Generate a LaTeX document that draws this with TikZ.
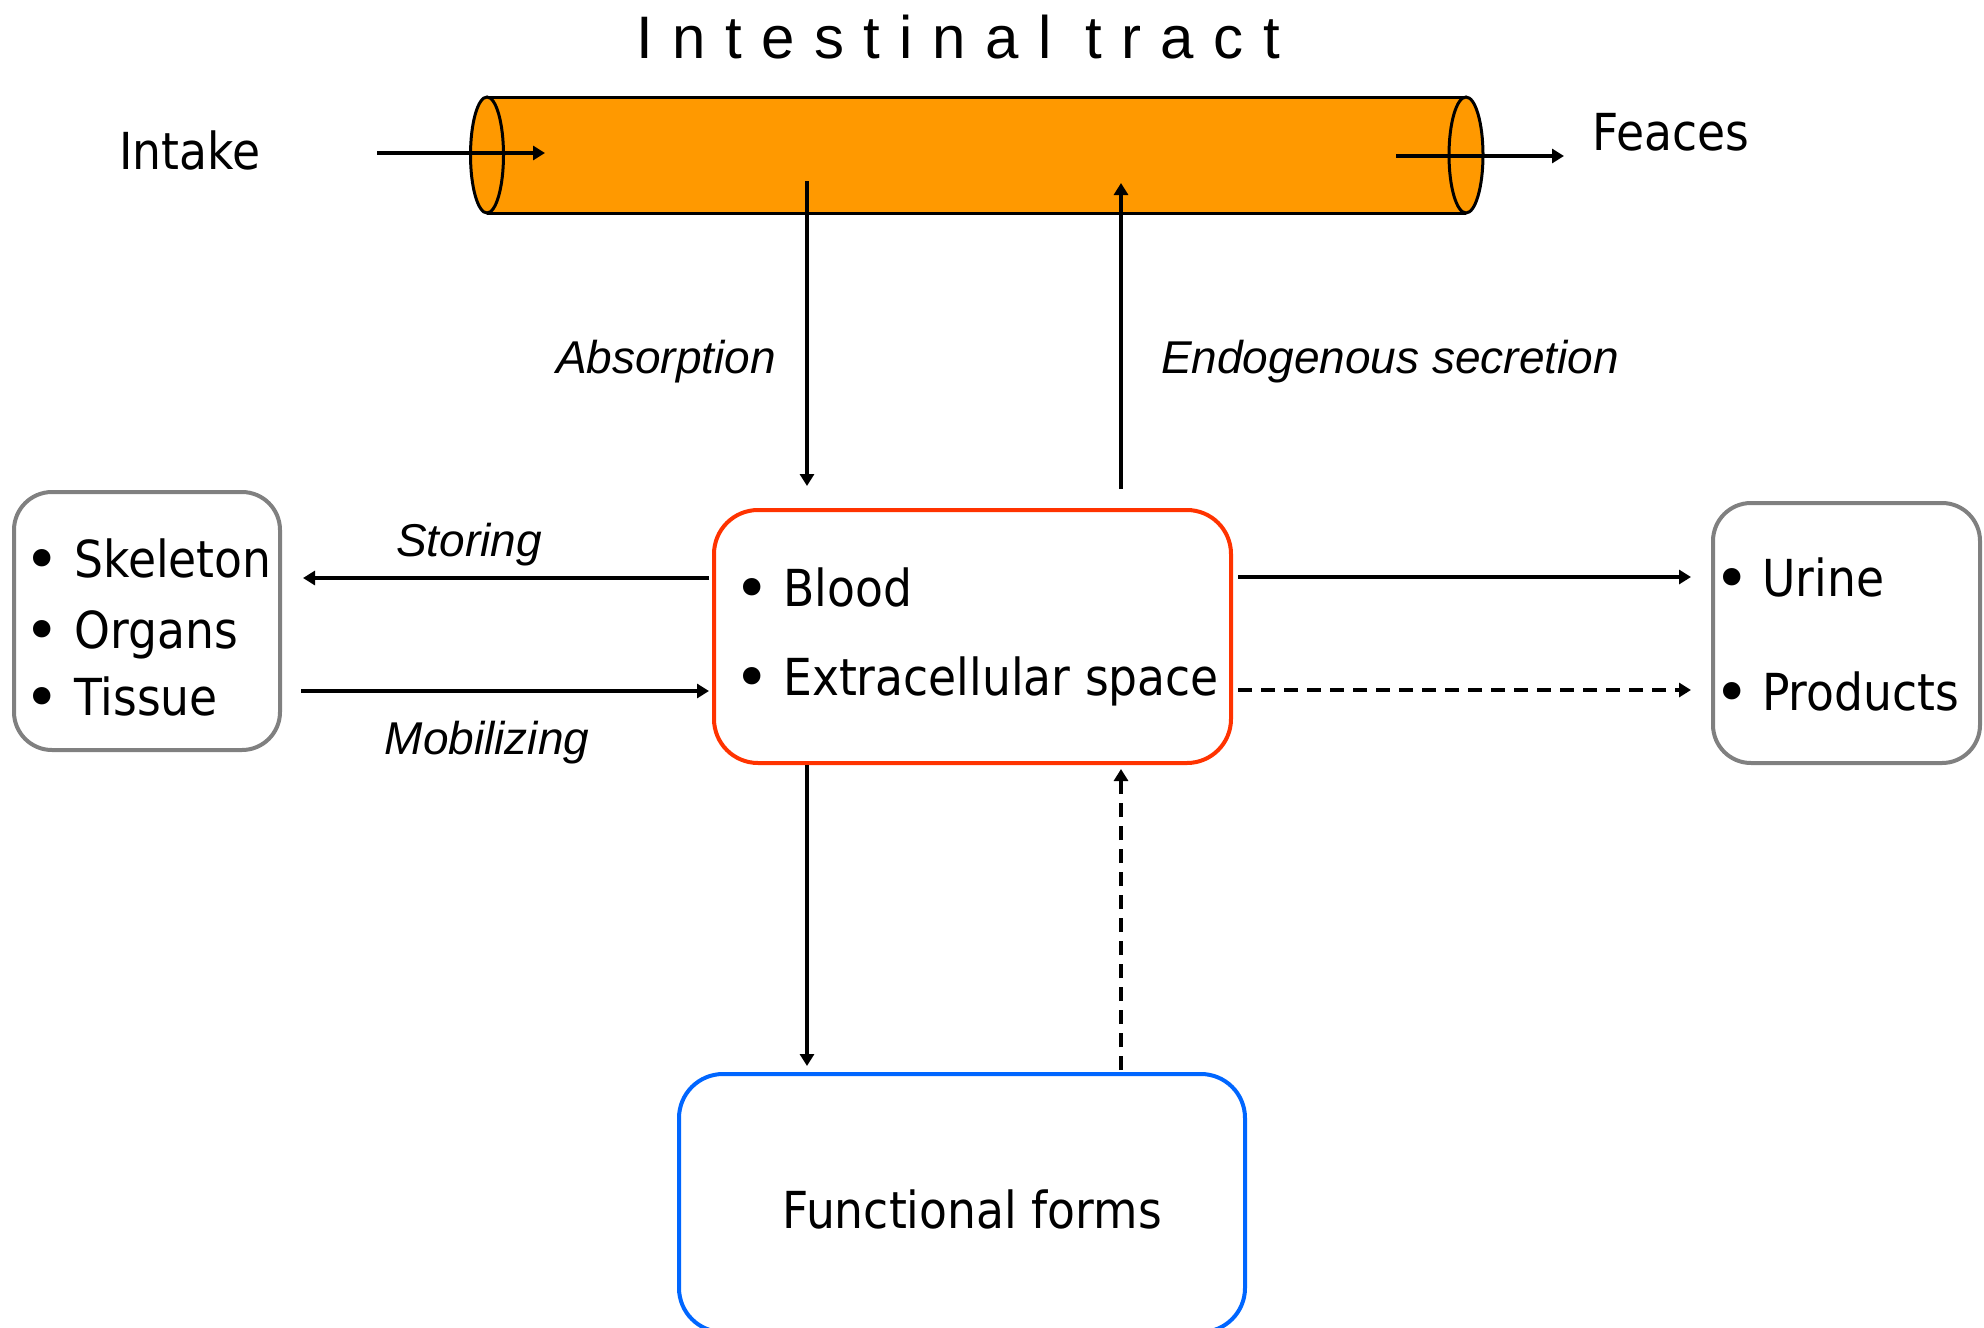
\documentclass[tikz,border=0pt]{standalone}
\usepackage{fontspec}
\setmainfont{DejaVu Sans}[FakeStretch=0.895]
\newfontfamily\bulf{DejaVu Sans}
\newfontfamily\helv{Liberation Sans}
\usetikzlibrary{arrows.meta}
\definecolor{tubeor}{RGB}{255,153,0}
\definecolor{bloodred}{RGB}{255,51,0}
\definecolor{funcblue}{RGB}{0,102,255}
\definecolor{boxgray}{RGB}{128,128,128}
\newcommand\tk{\kern19.5pt}
\tikzset{
 arr/.style={line width=3.3pt, -{Triangle[length=12pt,width=14pt]}},
 dasharr/.style={arr, dash pattern=on 14pt off 9pt},
 rbox/.style={draw, line width=4pt, rounded corners=#1, inner sep=0pt, fill=white},
 item/.style={anchor=base west, inner sep=0pt, font=\fontsize{51}{60}\selectfont},
 ctext/.style={anchor=base, inner sep=0pt, font=\fontsize{51}{60}\selectfont},
 bul/.style={anchor=base, inner sep=0pt, font=\bulf\fontsize{60}{60}\selectfont},
 lbl/.style={anchor=base, inner sep=0pt, font=\helv\itshape\fontsize{46}{50}\selectfont},
 outl/.style={line width=3pt},
}
\begin{document}
\begin{tikzpicture}[x=1pt,y=-1pt]
\useasboundingbox (0,0) rectangle (1984,1328);
% title
\node[anchor=base, inner sep=0pt, font=\helv\fontsize{60}{70}\selectfont] (title) at (958,58)
  {I\tk n\tk t\tk e\tk s\tk t\tk i\tk n\tk a\tk l\kern17pt\ t\tk r\tk a\tk c\tk t};
% intestinal tube
\fill[tubeor] (487,97) rectangle (1466,213);
\draw[outl] (487,97) -- (1466,97) (487,213) -- (1466,213);
\draw[outl, fill=tubeor] (487,155) ellipse [x radius=16.5, y radius=58];
\draw[outl, fill=tubeor] (1466,155) ellipse [x radius=17, y radius=58];
\coordinate (inS) at (377,153);
\coordinate (inE) at (545,153);
\coordinate (outS) at (1396,156);
\coordinate (outE) at (1564,156);
\coordinate (tubeA) at (807,181);
\coordinate (tubeE) at (1121,183);
% side labels
\node[ctext] (intake) at (190,169) {Intake};
\node[ctext] (feaces) at (1671,150) {Feaces};
% boxes
\node[rbox=38pt, draw=boxgray, minimum width=266pt, minimum height=258pt] (store) at (147,621) {};
\node[rbox=44pt, draw=bloodred, minimum width=517pt, minimum height=253pt] (blood) at (972.5,636.5) {};
\node[rbox=38pt, draw=boxgray, minimum width=267pt, minimum height=260pt] (excr) at (1846.5,633) {};
\node[rbox=44pt, draw=funcblue, minimum width=566pt, minimum height=258pt] (func) at (962,1203) {};
% box texts
\node[bul] (b1) at (42,580) {•};  \node[item] (t1) at (74,577) {Skeleton};
\node[bul] (b2) at (42,651) {•};  \node[item] (t2) at (74,648) {Organs};
\node[bul] (b3) at (42,718) {•};  \node[item] (t3) at (74,715) {Tissue};
\node[bul] (b4) at (752,609) {•}; \node[item] (t4) at (783,606) {Blood};
\node[bul] (b5) at (752,698) {•}; \node[item] (t5) at (783,695) {Extracellular space};
\node[bul] (b6) at (1732,599) {•}; \node[item] (t6) at (1762,596) {Urine};
\node[bul] (b7) at (1732,713) {•}; \node[item] (t7) at (1762,710) {Products};
\node[ctext] (t8) at (972,1228) {Functional forms};
% arrow labels
\node[lbl] (labs) at (666,373) {Absorption};
\node[lbl] (lend) at (1390,373) {Endogenous secretion};
\node[lbl] (lsto) at (469,556) {Storing};
\node[lbl] (lmob) at (487,754) {Mobilizing};
% y levels
\coordinate (yS) at (0,578);
\coordinate (yM) at (0,691);
\coordinate (yU) at (0,577);
\coordinate (yP) at (0,690);
% connectors
\draw[arr] (inS) -- (inE);
\draw[arr] (outS) -- (outE);
\draw[arr, shorten >=22pt] (tubeA) -- (blood.north -| tubeA);
\draw[arr, shorten <=19pt] (blood.north -| tubeE) -- (tubeE);
\draw[arr, shorten <=3pt, shorten >=21pt] (blood.west |- yS) -- (store.east |- yS);
\draw[arr, shorten <=19pt, shorten >=3pt] (store.east |- yM) -- (blood.west |- yM);
\draw[arr, shorten <=5pt, shorten >=20pt] (blood.east |- yU) -- (excr.west |- yU);
\draw[dasharr, shorten <=5pt, shorten >=20pt] (blood.east |- yP) -- (excr.west |- yP);
\draw[arr, shorten >=6pt] (blood.south -| tubeA) -- (func.north -| tubeA);
\draw[dasharr, shorten <=2pt, shorten >=4pt] (func.north -| tubeE) -- (blood.south -| tubeE);
\end{tikzpicture}
\end{document}
